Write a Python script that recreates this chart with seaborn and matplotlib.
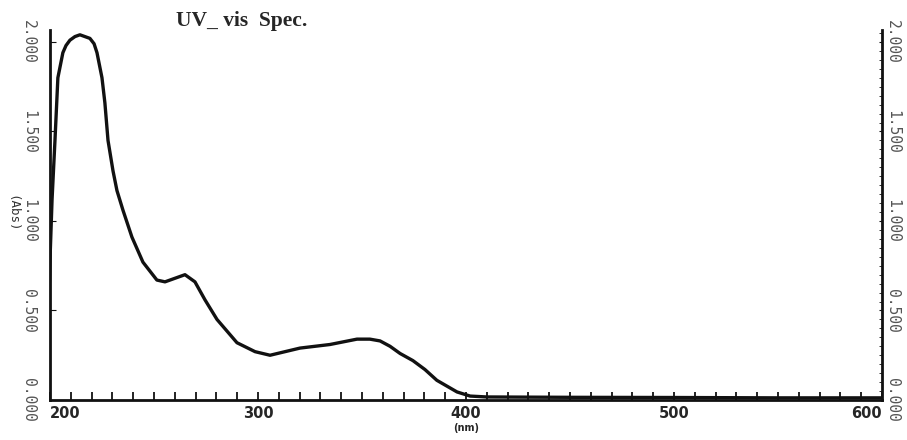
import numpy as np
import pandas as pd
import matplotlib
matplotlib.use("Agg")
import matplotlib.pyplot as plt
from matplotlib.ticker import MultipleLocator
import seaborn as sns

# wavelength (nm) and absorbance
wavelength = [199.5, 200.0, 201.0, 202.4, 203.8, 206.2, 207.7, 209.6, 212.0, 214.4,
              216.8, 219.2, 221.2, 222.6, 225.0, 226.4, 227.9, 230.3, 232.2, 235.1,
              239.4, 244.7, 251.4, 255.3, 260.1, 264.9, 269.7, 274.5, 280.3, 289.9,
              298.6, 305.8, 320.2, 334.6, 347.6, 353.8, 358.7, 363.5, 368.3, 374.5,
              380.3, 386.0, 395.7, 402.0, 410.0, 450.0, 500.0, 550.0, 600.0]
absorbance = [0.56, 0.78, 1.12, 1.45, 1.80, 1.94, 1.98, 2.01, 2.03, 2.04,
              2.03, 2.02, 1.99, 1.94, 1.80, 1.66, 1.45, 1.28, 1.17, 1.06,
              0.91, 0.77, 0.67, 0.66, 0.68, 0.70, 0.66, 0.56, 0.45, 0.32,
              0.27, 0.25, 0.29, 0.31, 0.34, 0.34, 0.33, 0.30, 0.26, 0.22,
              0.17, 0.11, 0.045, 0.022, 0.017, 0.015, 0.014, 0.012, 0.012]

x_ticks = [200, 300, 400, 500, 600]
y_ticks = [0.0, 0.5, 1.0, 1.5, 2.0]
y_labels = ["0.000", "0.500", "1.000", "1.500", "2.000"]

df = pd.DataFrame({"nm": wavelength, "abs": absorbance})

sns.set_style("white")
plt.rcParams["font.family"] = ["DejaVu Sans"]

fig = plt.figure(figsize=(9.07, 4.4), dpi=100)
ax = fig.add_axes([0.0551, 0.0909, 0.9173, 0.841])

sns.lineplot(data=df, x="nm", y="abs", color="#111111", linewidth=2.4, ax=ax, sort=False)

ax.set_xlim(200, 600)
ax.set_ylim(0, 2.067)

for side in ["left", "right", "bottom"]:
    ax.spines[side].set_visible(True)
    ax.spines[side].set_color("#111111")
    ax.spines[side].set_linewidth(2.0)
ax.spines["top"].set_visible(False)

# x axis
ax.set_xticks(x_ticks)
ax.xaxis.set_minor_locator(MultipleLocator(10))
ax.tick_params(axis="x", which="both", direction="in", bottom=True, length=6, width=1.3,
               color="#111111", pad=4)
ax.set_xticklabels([str(t) for t in x_ticks], fontsize=10.5, fontweight="bold",
                   family="DejaVu Sans")
labs = ax.get_xticklabels()
labs[0].set_ha("left")
labs[-1].set_ha("right")
ax.set_xlabel("")
ax.text(400, -0.155, "(nm)", fontsize=7, fontweight="bold", ha="center", va="center")

# left y axis
ax.set_yticks(y_ticks)
ax.set_yticklabels(y_labels, rotation=-90, va="center", fontsize=10.5,
                   family="DejaVu Sans Mono", color="#555555")
ax.tick_params(axis="y", which="major", left=True, direction="in", length=4,
               color="#111111", pad=10)
ax.set_ylabel("")
fig.text(0.013, 0.515, "(Abs)", rotation=-90, fontsize=9, ha="center", va="center",
         family="DejaVu Sans Mono", color="#333333")

# right y axis
ax2 = ax.twinx()
ax2.set_ylim(ax.get_ylim())
ax2.set_yticks(y_ticks)
ax2.set_yticklabels(y_labels, rotation=-90, va="center", fontsize=10.5,
                    family="DejaVu Sans Mono", color="#555555")
ax2.yaxis.set_minor_locator(MultipleLocator(0.05))
ax2.tick_params(axis="y", which="both", right=True, direction="in", length=2,
                color="#111111", pad=2)
for side in ["left", "right", "bottom", "top"]:
    ax2.spines[side].set_visible(False)
ax2.grid(False)

fig.text(0.267, 0.952, "UV_ vis  Spec.", fontsize=15.5, fontweight="bold",
         family="Liberation Serif", ha="center", va="center")

fig.savefig("out.png", dpi=100)
